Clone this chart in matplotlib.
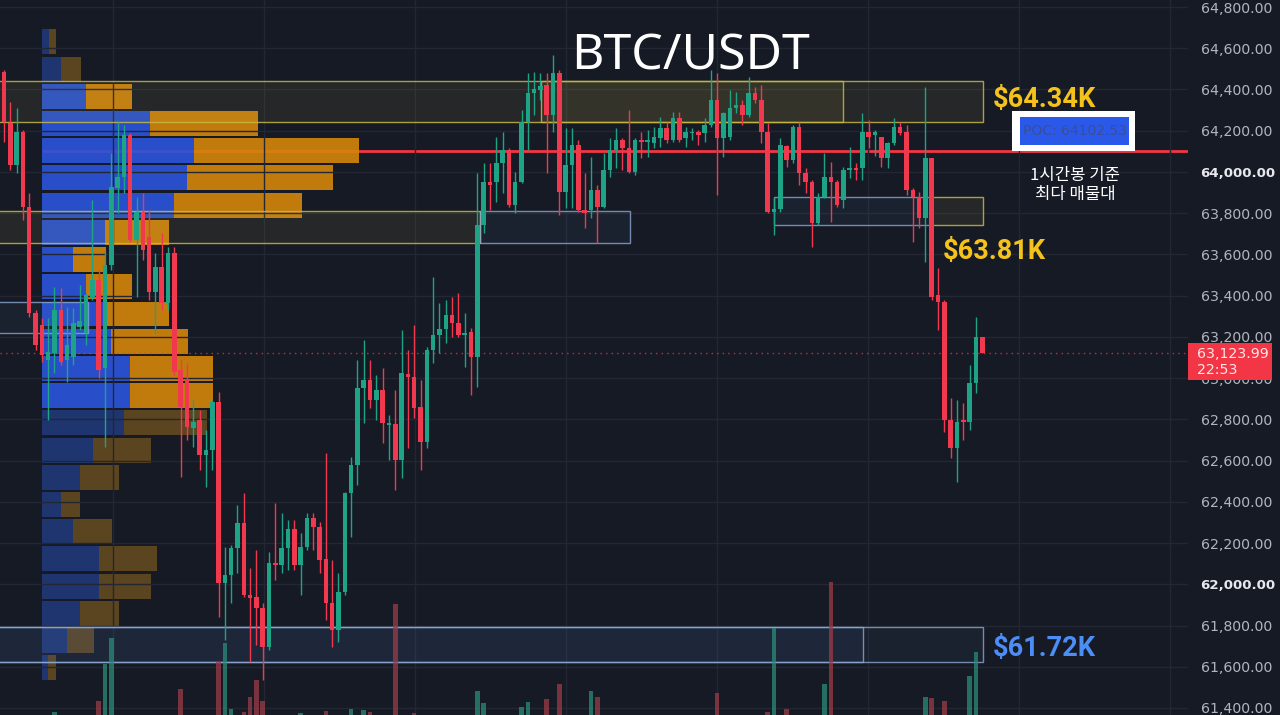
import matplotlib
matplotlib.use("Agg")
import matplotlib.pyplot as plt
from matplotlib.patches import Rectangle
import numpy as np

# ---------------- data ----------------
opens = [64485, 64237, 64034, 64194, 63830, 63316, 63258, 63088, 63122, 63330,
         63088, 63103, 63248, 63219, 63394, 63476, 63049, 63549, 63922, 63976,
         64179, 63670, 63806, 63685, 63418, 63539, 63364, 63607, 63039, 62991,
         62758, 62797, 62627, 62651, 62884, 62006, 62045, 62176, 62297, 61948,
         61939, 61885, 61696, 62104, 62094, 62176, 62268, 62094, 62181, 62322,
         62278, 62123, 61910, 61779, 61963, 62443, 62579, 62952, 62991, 62894,
         62943, 62773, 62778, 62603, 63020, 63006, 62860, 62690, 63137, 63209,
         63238, 63306, 63267, 63209, 63224, 63103, 63743, 63951, 63951, 64043,
         64107, 63840, 63951, 64242, 64383, 64398, 64422, 64276, 64480, 63903,
         64034, 64131, 63816, 63816, 63913, 63830, 64010, 64107, 64155, 64116,
         64000, 64155, 64145, 64140, 64165, 64213, 64155, 64262, 64165, 64189,
         64194, 64189, 64228, 64349, 64165, 64170, 64310, 64325, 64276, 64383,
         64349, 64194, 63806, 63820, 64126, 64058, 64218, 63995, 63951, 63752,
         63879, 63976, 63951, 63864, 64010, 64019, 64019, 64194, 64179, 64170,
         64068, 64140, 64218, 64194, 63913, 63879, 63777, 64068, 63403, 63369,
         62797, 62661, 62797, 62787, 62976, 63200]
highs = [64495, 64339, 64310, 64204, 63898, 63330, 63292, 63292, 63442, 63437,
         63345, 63340, 63452, 63413, 63864, 63524, 63621, 64092, 64242, 64228,
         64189, 63879, 63898, 63816, 63607, 63704, 63636, 63636, 63088, 63073,
         62894, 62846, 62748, 62894, 62933, 62181, 62191, 62385, 62443, 62079,
         62166, 61910, 62157, 62394, 62346, 62312, 62312, 62249, 62346, 62346,
         62302, 62637, 62118, 62055, 62448, 62618, 63088, 63185, 63088, 63015,
         63049, 62821, 62943, 63234, 63137, 63258, 62991, 63151, 63491, 63364,
         63379, 63394, 63413, 63316, 63243, 63995, 64043, 64043, 64170, 64194,
         64116, 64000, 64301, 64480, 64485, 64480, 64480, 64567, 64494, 64213,
         64213, 64155, 63995, 64073, 63937, 64092, 64165, 64213, 64165, 64301,
         64165, 64194, 64204, 64218, 64267, 64242, 64291, 64291, 64218, 64213,
         64204, 64262, 64494, 64480, 64291, 64398, 64388, 64349, 64461, 64412,
         64422, 64237, 63874, 64165, 64131, 64228, 64242, 64019, 63961, 63898,
         64092, 64048, 63961, 64024, 64121, 64043, 64286, 64252, 64204, 64170,
         64145, 64262, 64242, 64228, 63922, 63903, 64412, 64068, 63534, 63379,
         62904, 62894, 62880, 63064, 63297, 63200]
lows = [64145, 64010, 63995, 63767, 63297, 63136, 63078, 62797, 63025, 63064,
        62981, 63064, 63233, 63161, 63379, 63001, 62666, 63524, 63801, 63898,
        63660, 63394, 63573, 63379, 63219, 63330, 63330, 63015, 62521, 62700,
        62666, 62555, 62472, 62555, 61842, 61730, 61910, 62055, 61939, 61623,
        61706, 61536, 61682, 62021, 62055, 62069, 62069, 61948, 62166, 62166,
        62055, 61827, 61696, 61720, 61948, 62229, 62482, 62783, 62855, 62797,
        62685, 62603, 62458, 62516, 62661, 62807, 62555, 62661, 63073, 63122,
        63170, 63200, 63200, 63054, 62918, 62957, 63704, 63816, 63854, 63898,
        63830, 63801, 63946, 64107, 64276, 64349, 63995, 64194, 63791, 63825,
        63825, 63806, 63728, 63777, 63656, 63825, 63976, 64019, 64010, 63995,
        63985, 64068, 64073, 64116, 64121, 64140, 64145, 64145, 64121, 64155,
        64131, 64145, 64218, 63888, 64073, 64155, 64286, 64228, 64267, 64334,
        64140, 63801, 63694, 63806, 64024, 64043, 63937, 63898, 63636, 63743,
        63874, 63757, 63830, 63825, 63971, 63961, 63961, 64116, 64077, 64024,
        64019, 64131, 64179, 63888, 63660, 63728, 63563, 63379, 63233, 62739,
        62613, 62496, 62700, 62748, 62928, 63122]
closes = [64242, 64034, 64194, 63830, 63316, 63161, 63112, 63127, 63330, 63078,
          63161, 63267, 63277, 63403, 63476, 63039, 63549, 63927, 63976, 64179,
          63670, 63806, 63621, 63418, 63539, 63364, 63607, 63030, 62860, 62763,
          62787, 62627, 62651, 62884, 62006, 62045, 62176, 62297, 61948, 61934,
          61885, 61696, 62104, 62094, 62176, 62268, 62094, 62181, 62322, 62278,
          62118, 61910, 61779, 61963, 62443, 62579, 62952, 62991, 62894, 62943,
          62783, 62783, 62603, 63025, 63006, 62855, 62690, 63137, 63209, 63238,
          63306, 63267, 63209, 63219, 63103, 63743, 63951, 63937, 64043, 64107,
          63840, 63951, 64242, 64383, 64402, 64417, 64276, 64480, 63903, 64034,
          64131, 63816, 63801, 63913, 63830, 64010, 64107, 64155, 64116, 64000,
          64155, 64145, 64155, 64170, 64213, 64155, 64262, 64155, 64194, 64194,
          64179, 64228, 64349, 64165, 64286, 64310, 64325, 64276, 64383, 64349,
          64194, 63806, 63820, 64131, 64058, 64218, 63995, 63951, 63752, 63879,
          63976, 63951, 63840, 64010, 64019, 64010, 64194, 64170, 64194, 64068,
          64140, 64218, 64189, 63913, 63879, 63777, 64068, 63394, 63369, 62797,
          62661, 62787, 62787, 62976, 63200, 63124]
volumes = [1200, 900, 800, 1000, 1300, 700, 800, 900, 1530, 900,
           700, 800, 600, 900, 1100, 1640, 2010, 2270, 1300, 1000,
           1200, 900, 800, 1000, 700, 800, 900, 1300, 1760, 1100,
           800, 900, 700, 1000, 2030, 2220, 1560, 1200, 1530, 1680,
           1850, 1640, 1400, 900, 800, 700, 800, 1520, 900, 800,
           900, 1540, 1300, 1200, 1400, 1560, 1450, 1550, 1530, 900,
           1100, 800, 2610, 1400, 900, 1520, 1000, 1300, 1200, 800,
           700, 700, 800, 600, 900, 1740, 1620, 1000, 900, 800,
           1100, 900, 1580, 1630, 1000, 700, 1660, 1400, 1810, 1200,
           1000, 1100, 900, 1740, 1680, 1000, 800, 700, 600, 900,
           800, 600, 500, 500, 600, 700, 600, 700, 500, 400,
           400, 500, 1200, 1720, 900, 1000, 600, 500, 800, 500,
           900, 1530, 2370, 1300, 1560, 1000, 1100, 800, 1300, 1000,
           1810, 2830, 1000, 1100, 600, 500, 1000, 600, 500, 700,
           600, 800, 500, 1300, 1100, 1000, 1680, 1670, 1300, 1640,
           1400, 1450, 900, 1890, 2130, 700]

# volume profile (rows top -> bottom)
prof_levels = [64631, 64499, 64367, 64235, 64103, 63971, 63839, 63707,
               63575, 63443, 63311, 63179, 63047, 62915, 62783, 62651,
               62519, 62387, 62255, 62123, 61991, 61859, 61727, 61595]
prof_buy = [7, 19, 44, 108, 152, 145, 132, 63, 31, 44, 65, 69,
            88, 88, 82, 51, 38, 19, 31, 57, 57, 38, 25, 6]
prof_sell = [7, 20, 46, 108, 165, 146, 128, 64, 33, 46, 62, 77,
             83, 83, 83, 58, 39, 19, 39, 58, 52, 39, 27, 8]
va_high, va_low = 64430, 62850
poc = 64102.53
last_price = 63123.99
last_time = "22:53"

price_ticks = [64800, 64600, 64400, 64200, 64000, 63800, 63600, 63400, 63200,
               63000, 62800, 62600, 62400, 62200, 62000, 61800, 61600, 61400]
bold_ticks = [64000, 62000]

# zones: (x0, x1 in bar index, price low, price high)
yellow_zones = [(-1.5, 155.15, 64242, 64441), (85.1, 133.0, 64242, 64441),
                (-1.5, 75.4, 63656, 63811), (147.1, 155.15, 63743, 63879)]
blue_zones = [(75.4, 99.2, 63656, 63811), (122.0, 147.1, 63743, 63879),
              (-1.5, 13.3, 63219, 63369), (-1.5, 155.15, 61623, 61793),
              (-1.5, 136.1, 61623, 61793)]

# ---------------- style ----------------
BG = '#161a25'
GRID = '#232733'
UP = '#1fa386'
DOWN = '#f0394e'
W, H = 1280, 715

fig = plt.figure(figsize=(12.8, 7.15), dpi=100, facecolor=BG)
ax = fig.add_axes([0, 0, 1188 / W, 1])
ax.set_facecolor(BG)

n = len(opens)
idx = np.arange(n)
o = np.array(opens, float); c = np.array(closes, float)
hi = np.array(highs, float); lo = np.array(lows, float)
up = c >= o
cols = np.where(up, UP, DOWN)

# volume on twin axis (cut at the bottom like the reference)
axv = ax.twinx()
axv.set_ylim(1500, 8650)
vcols = np.where(up, '#2a8c78', '#9a3c47')
axv.bar(idx, volumes, width=0.72, color=vcols, alpha=0.75, zorder=1)
axv.set_yticks([])
for s in axv.spines.values():
    s.set_visible(False)

ax.set_xlim(-0.63, 187.6)
ax.set_ylim(61366, 64834)

# grid & ticks
ax.set_yticks(price_ticks)
ax.set_yticklabels([f"{p:,.2f}" for p in price_ticks])
ax.yaxis.tick_right()
ax.tick_params(axis='y', length=0, pad=9, labelsize=10.2, labelcolor='#b2b5be')
ax.set_xticks([17.2, 41.2, 65.1, 89.1, 113.0, 136.9, 160.9, 184.8])
ax.tick_params(axis='x', length=0, labelbottom=False)
ax.grid(True, color=GRID, lw=1)
ax.set_axisbelow(True)
for s in ax.spines.values():
    s.set_visible(False)
for lbl, p in zip(ax.get_yticklabels(), price_ticks):
    if p in bold_ticks:
        lbl.set_fontweight('bold')
        lbl.set_fontsize(9.6)
        lbl.set_color('#e6e8ee')

# POC line (under the profile)
prof_left = 6.0
px = 1 / 6.31
ax.plot([prof_left, 187.6], [poc, poc], color='#f23645', lw=2, zorder=0.2,
        solid_capstyle='butt')

# volume profile
row_h = 121
for lev, b, s in zip(prof_levels, prof_buy, prof_sell):
    inva = va_low <= lev <= va_high
    cb = '#2b56dc' if inva else '#1f3570'
    cs = '#d5860b' if inva else '#5b4420'
    al = 0.9 if inva else 1.0
    ax.barh(lev, b * px, left=prof_left, height=row_h, color=cb, alpha=al, zorder=0.3)
    ax.barh(lev, s * px, left=prof_left + b * px, height=row_h, color=cs, alpha=al, zorder=0.3)

# zones
for x0, x1, p0, p1 in yellow_zones:
    ax.add_patch(Rectangle((x0, p0), x1 - x0, p1 - p0, facecolor=(0.85, 0.8, 0.3, 0.08),
                           edgecolor=(0.78, 0.72, 0.25, 0.85), lw=1, zorder=1))
for x0, x1, p0, p1 in blue_zones:
    ax.add_patch(Rectangle((x0, p0), x1 - x0, p1 - p0, facecolor=(0.35, 0.5, 0.75, 0.07),
                           edgecolor=(0.55, 0.66, 0.82, 0.8), lw=1, zorder=1))

# last price dotted line
ax.axhline(last_price, color='#f23645', lw=1, ls=(0, (1, 3)), alpha=0.8, zorder=1.5)

# candles
ax.vlines(idx, lo, hi, colors=cols, lw=1, zorder=3)
body_lo = np.minimum(o, c)
body_h = np.maximum(np.abs(c - o), 6)
ax.bar(idx, body_h, bottom=body_lo, width=0.72, color=cols, zorder=4)

# ---------------- annotations ----------------
def fx(x): return x / W
def fy(y): return 1 - y / H

fam = ['Noto Sans', 'DejaVu Sans']
lab = ['Roboto', 'DejaVu Sans']
fig.text(fx(691), fy(70), 'BTC/USDT', fontsize=36, color='white', ha='center',
         va='baseline', family=fam)
fig.text(fx(993), fy(107), '$64.34K', fontsize=19.5, color='#f5c21b', ha='left',
         va='baseline', family=lab, fontweight='bold')
fig.text(fx(943), fy(259), '$63.81K', fontsize=19.5, color='#f5c21b', ha='left',
         va='baseline', family=lab, fontweight='bold')
fig.text(fx(993), fy(656), '$61.72K', fontsize=19.5, color='#4c8df6', ha='left',
         va='baseline', family=lab, fontweight='bold')

# POC label
fig.patches.append(Rectangle((fx(1012), fy(151)), 123 / W, 40 / H, transform=fig.transFigure,
                             facecolor='white', edgecolor='none', zorder=5))
fig.patches.append(Rectangle((fx(1020), fy(145)), 109 / W, 28 / H, transform=fig.transFigure,
                             facecolor='#2a59ea', edgecolor='none', zorder=6))
fig.text(fx(1075), fy(131), f"POC: {poc:.2f}", fontsize=10, color='#3d4d95', ha='center',
         va='center', zorder=7)
fig.text(fx(1075), fy(185), '1시간봉 기준\n최다 매물대', fontsize=12, color='white',
         ha='center', va='center', linespacing=1.1,
         family=['Noto Sans CJK KR', 'DejaVu Sans'])

# last price label on the axis
fig.patches.append(Rectangle((fx(1188), fy(380)), 84 / W, 37 / H, transform=fig.transFigure,
                             facecolor='#f23645', edgecolor='none', zorder=5))
fig.text(fx(1197), fy(358), f"{last_price:,.2f}", fontsize=10.2, color='#ffe6e9',
         ha='left', va='baseline', zorder=6)
fig.text(fx(1197), fy(374), last_time, fontsize=10.2, color='#ffe6e9',
         ha='left', va='baseline', zorder=6)

fig.savefig('out.png', dpi=100, facecolor=BG)
